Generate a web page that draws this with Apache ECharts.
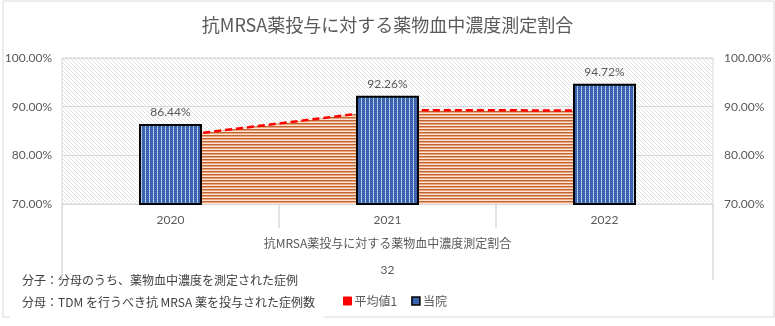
<!DOCTYPE html>
<html>
<head>
<meta charset="utf-8">
<script src="https://cdn.jsdelivr.net/npm/echarts@6/dist/echarts.min.js"></script>
<style>
  html, body { margin: 0; padding: 0; background: #fff; }
  #chart { width: 775px; height: 326px; }
</style>
</head>
<body>
<div id="chart"></div>
<script>
// Fiscal years on the first category level
const years = ['2020', '2021', '2022'];
// Upper category levels (indicator name, indicator number)
const groupLabel = ['抗MRSA薬投与に対する薬物血中濃度測定割合'];
const groupNumber = ['32'];
// Measurement rate (%) at this hospital
const hospital = [86.44, 92.26, 94.72];
// Reference average (%)
const average = [83.8, 89.3, 89.2];
// Value axis ticks (%)
const yMin = 70, yMax = 100, yStep = 10;

const titleText = '抗MRSA薬投与に対する薬物血中濃度測定割合';
const noteLines = [
  '分子：分母のうち、薬物血中濃度を測定された症例',
  '分母：TDM を行うべき抗 MRSA 薬を投与された症例数'
];

const FONT = 'Lato, "Noto Sans CJK JP", sans-serif';
const CJK = '"Noto Sans CJK JP", sans-serif';

// --- fill patterns ---
function makePattern(w, h, draw) {
  const c = document.createElement('canvas');
  c.width = w; c.height = h;
  const ctx = c.getContext('2d');
  draw(ctx);
  return { image: c, repeat: 'repeat' };
}
// light diagonal hatch for the plot area
const hatch = makePattern(4, 4, ctx => {
  ctx.fillStyle = '#ffffff'; ctx.fillRect(0, 0, 4, 4);
  ctx.fillStyle = '#e0e0e0';
  for (let i = 0; i < 4; i++) ctx.fillRect(i, i, 1, 1);
});
// blue with dotted vertical lines for the bars
const barFill = makePattern(4, 2, ctx => {
  ctx.fillStyle = '#3b64b0'; ctx.fillRect(0, 0, 4, 2);
  ctx.fillStyle = '#d3def2'; ctx.fillRect(1, 0, 1, 1);
  ctx.fillStyle = '#92acdc'; ctx.fillRect(1, 1, 1, 1);
});
// orange horizontal stripes for the average area
const areaFill = makePattern(2, 3, ctx => {
  ctx.fillStyle = '#c2652e'; ctx.fillRect(0, 0, 2, 1);
  ctx.fillStyle = '#e9a57d'; ctx.fillRect(0, 1, 2, 1);
  ctx.fillStyle = '#fbe4d5'; ctx.fillRect(0, 2, 2, 1);
});

const chart = echarts.init(document.getElementById('chart'), null, { renderer: 'canvas' });

const pct = v => v.toFixed(2) + '%';

chart.setOption({
  animation: false,
  backgroundColor: '#ffffff',
  title: {
    text: titleText,
    left: 'center',
    top: 11,
    textStyle: { color: '#595959', fontSize: 18, fontWeight: 'normal', fontFamily: CJK }
  },
  legend: {
    left: 338,
    top: 290,
    itemWidth: 8,
    itemHeight: 8,
    itemGap: 14,
    textStyle: { color: '#595959', fontSize: 12, fontFamily: CJK, padding: [0, 0, 0, -2] },
    data: [
      { name: '平均値1', icon: 'rect', itemStyle: { color: '#ff0000', borderColor: '#ff0000', borderWidth: 1 } },
      { name: '当院', icon: 'rect', itemStyle: { color: '#3b64b0', borderColor: '#000000', borderWidth: 1.5 } }
    ]
  },
  grid: {
    left: 62, right: 62, top: 58, bottom: 122,
    show: true,
    backgroundColor: hatch,
    borderColor: '#d9d9d9',
    borderWidth: 1
  },
  xAxis: [
    {
      type: 'category',
      data: years,
      position: 'bottom',
      axisLine: { show: true, lineStyle: { color: '#d9d9d9', width: 1 } },
      axisTick: { show: true, length: 24, lineStyle: { color: '#d9d9d9', width: 1.5 } },
      axisLabel: { color: '#595959', fontSize: 12, fontFamily: FONT, margin: 10 }
    },
    {
      type: 'category',
      data: groupLabel,
      position: 'bottom',
      offset: 24,
      axisLine: { show: false },
      axisTick: { show: true, length: 52, lineStyle: { color: '#d9d9d9', width: 1.5 } },
      axisLabel: { color: '#595959', fontSize: 12, fontFamily: CJK, margin: 9 }
    },
    {
      type: 'category',
      data: groupNumber,
      position: 'bottom',
      offset: 50,
      axisLine: { show: false },
      axisTick: { show: false },
      axisLabel: { color: '#595959', fontSize: 12, fontFamily: FONT, margin: 10 }
    }
  ],
  yAxis: [
    {
      type: 'value',
      min: yMin, max: yMax, interval: yStep,
      position: 'left',
      axisLine: { show: false },
      axisTick: { show: false },
      splitLine: { show: true, lineStyle: { color: '#d9d9d9', width: 1 } },
      axisLabel: { color: '#595959', fontSize: 12, fontFamily: FONT, margin: 10, formatter: pct }
    },
    {
      type: 'value',
      min: yMin, max: yMax, interval: yStep,
      position: 'right',
      axisLine: { show: false },
      axisTick: { show: false },
      splitLine: { show: false },
      axisLabel: { color: '#595959', fontSize: 12, fontFamily: FONT, margin: 11, formatter: pct }
    }
  ],
  series: [
    {
      name: '平均値1',
      type: 'line',
      data: average,
      xAxisIndex: 0,
      yAxisIndex: 0,
      symbol: 'none',
      z: 2,
      itemStyle: { color: '#ff0000' },
      lineStyle: { color: '#ff0000', width: 2.5, type: [7, 4] },
      areaStyle: { color: areaFill, opacity: 1, origin: 'start' }
    },
    {
      name: '当院',
      type: 'bar',
      data: hospital,
      xAxisIndex: 0,
      yAxisIndex: 0,
      barWidth: 63,
      z: 3,
      itemStyle: { color: barFill, borderColor: '#000000', borderWidth: 2 },
      label: {
        show: true,
        position: 'top',
        distance: 6,
        color: '#595959',
        fontSize: 12,
        fontFamily: FONT,
        formatter: p => pct(p.value)
      }
    }
  ],
  graphic: [
    {
      type: 'rect',
      shape: { x: 3, y: 1, width: 771, height: 316 },
      style: { fill: 'none', stroke: '#d9d9d9', lineWidth: 1 },
      silent: true,
      z: -10
    },
    {
      type: 'group',
      z: 100,
      children: [
        {
          type: 'rect',
          shape: { x: 10, y: 267, width: 314, height: 56 },
          style: { fill: '#ffffff' }
        },
        {
          type: 'text',
          x: 22, y: 280,
          style: { text: noteLines[0], fill: '#404040', fontSize: 12, fontFamily: CJK, verticalAlign: 'middle' }
        },
        {
          type: 'text',
          x: 22, y: 302,
          style: { text: noteLines[1], fill: '#404040', fontSize: 12, fontFamily: CJK, verticalAlign: 'middle' }
        }
      ]
    }
  ]
});
</script>
</body>
</html>
